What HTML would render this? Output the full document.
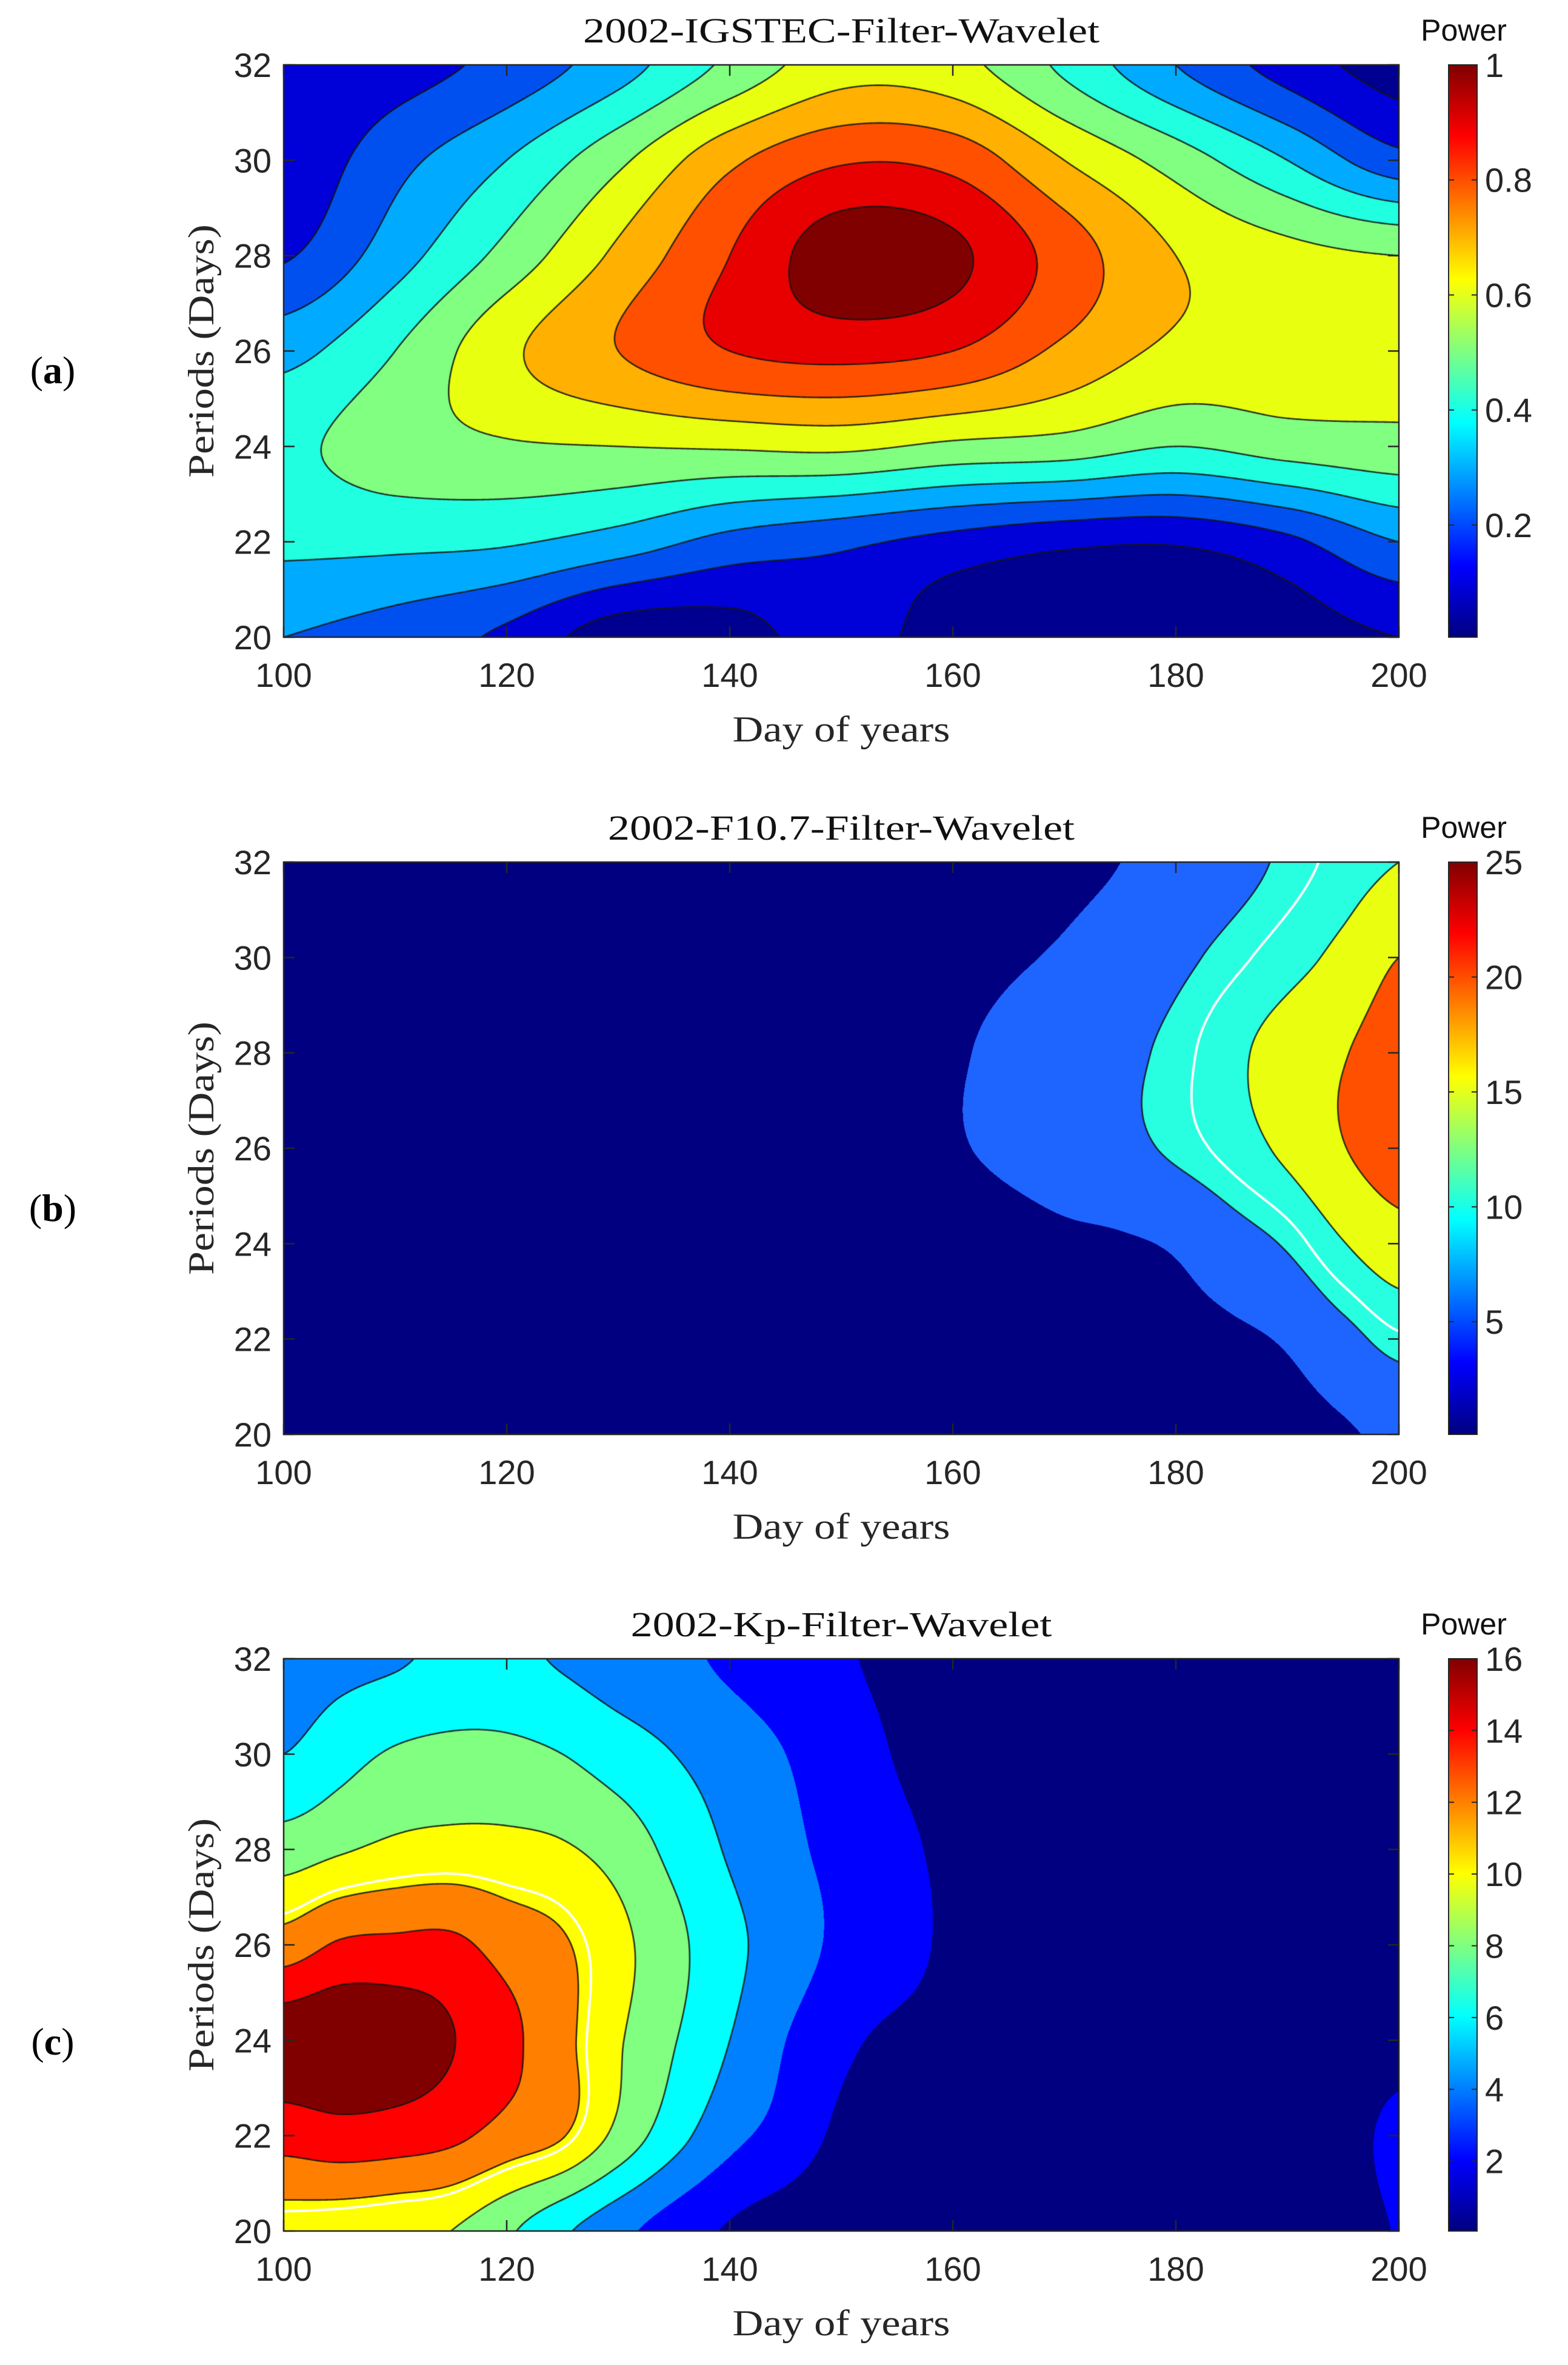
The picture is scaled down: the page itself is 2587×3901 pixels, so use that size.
<!DOCTYPE html>
<html><head><meta charset="utf-8"><style>
html,body{margin:0;padding:0;background:#fff;}
#root{position:relative;width:2587px;height:3901px;overflow:hidden;background:#fff;}
canvas{position:absolute;}
svg{position:absolute;left:0;top:0;}
</style></head><body>
<div id="root">
<canvas id="cvA"></canvas>
<canvas id="cvB"></canvas>
<canvas id="cvC"></canvas>
<svg id="ov" width="2587" height="3901">
<defs>
<linearGradient id="jet" x1="0" y1="1" x2="0" y2="0">
<stop offset="0" stop-color="#000080"/><stop offset="0.125" stop-color="#0000ff"/>
<stop offset="0.375" stop-color="#00ffff"/><stop offset="0.625" stop-color="#ffff00"/>
<stop offset="0.875" stop-color="#ff0000"/><stop offset="1" stop-color="#800000"/>
</linearGradient>
</defs>
</svg>
</div>
<script>
// ---- data ----
const xsA = [100,110,120,130,140,150,160,170,180,190,200];
const ysA = [20,22,24,26,28,30,32];
const zA = [
 [0.27,0.23,0.16,0.04,0.05,0.13,0.04,0,-0.03,0.04,0.09],
 [0.38,0.38,0.37,0.32,0.24,0.20,0.15,0.11,0.10,0.16,0.27],
 [0.43,0.50,0.53,0.54,0.55,0.56,0.52,0.50,0.45,0.49,0.51],
 [0.33,0.45,0.61,0.72,0.81,0.84,0.81,0.70,0.61,0.59,0.57],
 [0.17,0.32,0.48,0.65,0.81,0.95,0.92,0.77,0.63,0.57,0.54],
 [0.11,0.24,0.36,0.52,0.70,0.80,0.78,0.63,0.50,0.36,0.21],
 [0.09,0.14,0.21,0.32,0.47,0.59,0.57,0.43,0.27,0.14,0.05]
];
const levelsA = [0.09,0.18,0.27,0.36,0.45,0.54,0.63,0.72,0.81,0.9];
const lineLevelsA = [0.09,0.18,0.27,0.36,0.45,0.54,0.63,0.72,0.81,0.9];
const colorsA = ['#000090','#0000d8','#0050f0','#00aaff','#20ffe0','#80ff80','#e8ff10','#ffb000','#ff5000','#e80000','#800000'];
const cbTicksA = [0.2,0.4,0.6,0.8,1];
const cbRangeA = [0.005,1];

const xsB = [100,105,110,115,120,125,130,135,140,145,150,155,160,165,170,175,180,185,190,195,200];
const ysB = [20,22,24,26,28,30,32];
const zB = [
 [0.5,0.5,0.5,0.5,0.5,0.5,0.5,0.5,0.5,0.5,0.5,0.7,0.8,1.0,1.2,1.5,2.0,2.8,3.5,4.5,6.0],
 [0.5,0.5,0.5,0.5,0.5,0.5,0.5,0.5,0.5,0.5,0.5,0.8,1.0,1.5,2.0,2.7,3.5,4.2,5.5,8.5,11.5],
 [1,1,1,1,1,1,1,1,1,1,1.0,1.5,2.0,3.0,4.0,4.5,5.5,8.0,10.5,14.8,18.0],
 [1.5,1.5,1.5,1.5,1.5,1.5,1.5,1.5,1.5,1.5,2,3,4.5,6,7.5,8.8,10.7,13,16,19.8,22.5],
 [1.5,1.5,1.5,1.5,1.5,1.5,1.5,1.5,1.5,1.5,2,3,4.5,6,7.5,9,11,14,17,19.7,22.5],
 [1.2,1.2,1.2,1.2,1.2,1.2,1.2,1.2,1.2,1.2,1.5,2.5,3.5,4.5,5.5,7,9,11.2,13.5,16.2,20],
 [0.8,0.8,0.8,0.8,0.8,0.8,0.8,0.8,0.8,0.8,1,1.5,2,3,4,5,6.5,8.5,10.7,13,15]
];
const levelsB = [5,10,15,20];
const lineLevelsB = [10,15,20];
const whiteLevelB = 12;
const colorsB = ['#000080','#1e64ff','#28ffe0','#eaff10','#ff5000'];
const cbTicksB = [5,10,15,20,25];
const cbRangeB = [0.1,25];

const xsC = [100,105,110,115,120,125,130,135,140,145,150,155,160,165,170,175,180,185,190,195,200];
const ysC = [20,22,24,26,28,30,32];
const zC = [
 [9.9,9.7,9.4,9.0,7.5,5.7,4.1,2.7,1.6,0.9,0.5,0.4,0.4,0.4,0.4,0.4,0.4,0.4,0.5,0.9,1.9],
 [13.3,13.7,13.5,13.0,11.9,10.9,8.5,6.1,4.1,2.9,1.4,0.7,0.6,0.6,0.6,0.6,0.6,0.6,0.6,1.1,2.3],
 [15.5,15.8,15.5,14.5,13.1,11.3,9.2,7.3,5.4,3.6,2.2,1.4,1.1,0.8,0.7,0.6,0.6,0.6,0.6,0.7,1.1],
 [11.6,12.8,13.0,13.0,11.9,11.0,9.5,7.7,5.9,4.5,3.2,2.5,1.4,0.9,0.7,0.6,0.6,0.6,0.6,0.6,0.6],
 [8.1,8.8,9.4,9.6,9.5,9.2,8.3,6.7,5.2,4.0,3.1,2.2,1.4,0.9,0.7,0.6,0.6,0.6,0.6,0.6,0.6],
 [5.4,6.5,7.4,7.7,7.65,7.2,6.3,5.4,4.5,3.6,2.7,1.7,1.1,0.8,0.7,0.6,0.6,0.6,0.6,0.6,0.6],
 [4.5,4.9,5.2,5.8,5.8,5.2,4.5,4.0,3.3,2.7,2.0,1.4,1.1,0.8,0.7,0.6,0.6,0.6,0.6,0.6,0.6]
];
const levelsC = [1.8,3.6,5.4,7.2,9.0,10.8,12.6,14.4];
const lineLevelsC = [5.4,7.2,9.0,10.8,12.6,14.4];
const whiteLevelC = 10.4;
const colorsC = ['#000080','#0000ff','#0080ff','#00ffff','#80ff80','#ffff00','#ff8000','#ff0000','#800000'];
const cbTicksC = [2,4,6,8,10,12,14,16];
const cbRangeC = [0.05,16];

const xTicks = [100,120,140,160,180,200];
const yTicks = [20,22,24,26,28,30,32];

// ---- layout ----
const PL = 468, PR = 2308, CBL = 2390, CBR = 2437;
const panels = [
 {id:'A', key:'a', top:107, bottom:1051, title:'2002-IGSTEC-Filter-Wavelet', titleW:852, labelY:610,
  xs:xsA, ys:ysA, z:zA, levels:levelsA, lines:lineLevelsA, white:null, colors:colorsA, cbt:cbTicksA, cbr:cbRangeA},
 {id:'B', key:'b', top:1422, bottom:2366, title:'2002-F10.7-Filter-Wavelet', titleW:770, labelY:1992,
  xs:xsB, ys:ysB, z:zB, levels:levelsB, lines:lineLevelsB, white:whiteLevelB, colors:colorsB, cbt:cbTicksB, cbr:cbRangeB},
 {id:'C', key:'c', top:2736, bottom:3680, title:'2002-Kp-Filter-Wavelet', titleW:695, labelY:3367,
  xs:xsC, ys:ysC, z:zC, levels:levelsC, lines:lineLevelsC, white:whiteLevelC, colors:colorsC, cbt:cbTicksC, cbr:cbRangeC}
];

function hex(c){return [parseInt(c.substr(1,2),16),parseInt(c.substr(3,2),16),parseInt(c.substr(5,2),16)];}
function cr(p0,p1,p2,p3,t){return 0.5*((2*p1)+(-p0+p2)*t+(2*p0-5*p1+4*p2-p3)*t*t+(-p0+3*p1-3*p2+p3)*t*t*t);}
function sampler(p){
 const nx=p.xs.length, ny=p.ys.length, x0=p.xs[0], dx=p.xs[1]-p.xs[0], y0=p.ys[0], dy=p.ys[1]-p.ys[0];
 const g=(i,j)=>p.z[Math.max(0,Math.min(ny-1,j))][Math.max(0,Math.min(nx-1,i))];
 return function(day,per){
  let fx=(day-x0)/dx, fy=(per-y0)/dy;
  fx=Math.max(0,Math.min(nx-1.0001,fx)); fy=Math.max(0,Math.min(ny-1.0001,fy));
  const i=Math.floor(fx), j=Math.floor(fy), tx=fx-i, ty=fy-j;
  const r=[];
  for(let k=-1;k<=2;k++) r.push(cr(g(i-1,j+k),g(i,j+k),g(i+1,j+k),g(i+2,j+k),tx));
  return cr(r[0],r[1],r[2],r[3],ty);
 };
}
const svg=document.getElementById('ov'); const NS='http://www.w3.org/2000/svg';
function mk(tag,attrs,parent){const e=document.createElementNS(NS,tag);for(const k in attrs)e.setAttribute(k,attrs[k]);(parent||svg).appendChild(e);return e;}

panels.forEach(p=>{
 const W=PR-PL, H=p.bottom-p.top;
 const xScale=d=>PL+(d-100)/100*W;
 const yScale=v=>p.bottom-(v-20)/12*H;
 const cv=document.getElementById('cv'+p.id);
 cv.width=W; cv.height=H; cv.style.left=PL+'px'; cv.style.top=p.top+'px';
 const ctx=cv.getContext('2d');
 const f=sampler(p);
 const img=ctx.createImageData(W,H); const cols=p.colors.map(hex);
 const st=2, gw=Math.ceil(W/st)+1, gh=Math.ceil(H/st)+1; const vals=new Float32Array(gw*gh);
 for(let j=0;j<gh;j++){const per=32-(j*st)/H*12;for(let i=0;i<gw;i++){vals[j*gw+i]=f(100+(i*st)/W*100,per);}}
 for(let y=0;y<H;y++){const gj=Math.min(gh-2,Math.floor(y/st)),ty=(y-gj*st)/st;
  for(let x=0;x<W;x++){const gi=Math.min(gw-2,Math.floor(x/st)),tx=(x-gi*st)/st;
   const v=(vals[gj*gw+gi]*(1-tx)+vals[gj*gw+gi+1]*tx)*(1-ty)+(vals[(gj+1)*gw+gi]*(1-tx)+vals[(gj+1)*gw+gi+1]*tx)*ty;
   let b=0; while(b<p.levels.length && v>=p.levels[b]) b++;
   const c=cols[b], o=(y*W+x)*4; img.data[o]=c[0];img.data[o+1]=c[1];img.data[o+2]=c[2];img.data[o+3]=255;}}
 ctx.putImageData(img,0,0);
 function drawLevel(L,color,lw){
  ctx.strokeStyle=color; ctx.lineWidth=lw; ctx.beginPath();
  for(let j=0;j<gh-1;j++)for(let i=0;i<gw-1;i++){
   const a=vals[j*gw+i],b=vals[j*gw+i+1],c=vals[(j+1)*gw+i+1],d=vals[(j+1)*gw+i];
   const pts=[];
   const X=i*st,Y=j*st;
   if((a<L)!==(b<L))pts.push([X+st*(L-a)/(b-a),Y]);
   if((b<L)!==(c<L))pts.push([X+st,Y+st*(L-b)/(c-b)]);
   if((d<L)!==(c<L))pts.push([X+st*(L-d)/(c-d),Y+st]);
   if((a<L)!==(d<L))pts.push([X,Y+st*(L-a)/(d-a)]);
   for(let k=0;k+1<pts.length;k+=2){ctx.moveTo(pts[k][0],pts[k][1]);ctx.lineTo(pts[k+1][0],pts[k+1][1]);}
  }
  ctx.stroke();
 }
 p.lines.forEach(L=>drawLevel(L,'rgba(20,20,20,0.85)',2.6));
 if(p.white!==null) drawLevel(p.white,'#ffffff',4);

 const g=mk('g',{});
 
 
 const box=mk('rect',{x:PL,y:p.top,width:W,height:H,fill:'none',stroke:'#262626','stroke-width':2.5},g);
 
 
 const TL=18;
 xTicks.forEach(t=>{
  const x=xScale(t);
  const tk=mk('path',{d:`M${x},${p.bottom}v${-TL}M${x},${p.top}v${TL}`,stroke:'#262626','stroke-width':2.5},g);
  
  
  const tx=mk('text',{x:x,y:p.bottom+82,'text-anchor':'middle','font-family':'Liberation Sans, sans-serif','font-size':56,fill:'#262626'},g);
  tx.textContent=t;
  
  
 });
 yTicks.forEach(t=>{
  const y=yScale(t);
  const tk=mk('path',{d:`M${PL},${y}h${TL}M${PR},${y}h${-TL}`,stroke:'#262626','stroke-width':2.5},g);
  
  
  const tx=mk('text',{x:448,y:y+20,'text-anchor':'end','font-family':'Liberation Sans, sans-serif','font-size':56,fill:'#262626'},g);
  tx.textContent=t;
  
  
 });
 const title=mk('text',{x:(PL+PR)/2,y:p.top-37,'text-anchor':'middle','font-family':'Liberation Serif, serif','font-size':58,fill:'#111',textLength:p.titleW,lengthAdjust:'spacingAndGlyphs'},g);
 title.textContent=p.title;
 
 
 const xl=mk('text',{x:(PL+PR)/2,y:p.bottom+172,'text-anchor':'middle','font-family':'Liberation Serif, serif','font-size':60,fill:'#262626',textLength:359,lengthAdjust:'spacingAndGlyphs'},g);
 xl.textContent='Day of years';
 
 
 const ym=(p.top+p.bottom)/2;
 const yl=mk('text',{x:0,y:0,transform:`translate(352,${ym}) rotate(-90)`,'text-anchor':'middle','font-family':'Liberation Serif, serif','font-size':60,fill:'#262626',textLength:418,lengthAdjust:'spacingAndGlyphs'},g);
 yl.textContent='Periods (Days)';
 
 
 const pl=mk('text',{x:87,y:p.labelY+22,'text-anchor':'middle','font-family':'Liberation Serif, serif','font-size':64,fill:'#000'},g);
 pl.innerHTML='(<tspan font-weight="bold">'+p.key+'</tspan>)';
 
 
 const cb=mk('rect',{x:CBL,y:p.top,width:CBR-CBL,height:H,fill:'url(#jet)',stroke:'#262626','stroke-width':2},g);
 
 
 const cbY=v=>p.bottom-(v-p.cbr[0])/(p.cbr[1]-p.cbr[0])*H;
 p.cbt.forEach(t=>{
  const y=cbY(t);
  const tk=mk('path',{d:`M${CBL},${y}h9M${CBR},${y}h-9`,stroke:'#262626','stroke-width':2},g);
  
  
  const tx=mk('text',{x:2450,y:y+20,'font-family':'Liberation Sans, sans-serif','font-size':56,fill:'#262626'},g);
  tx.textContent=t;
  
  
 });
 const pw=mk('text',{x:2415,y:p.top-40,'text-anchor':'middle','font-family':'Liberation Sans, sans-serif','font-size':50,fill:'#111'},g);
 pw.textContent='Power';
 
 
});
</script>
</body></html>
